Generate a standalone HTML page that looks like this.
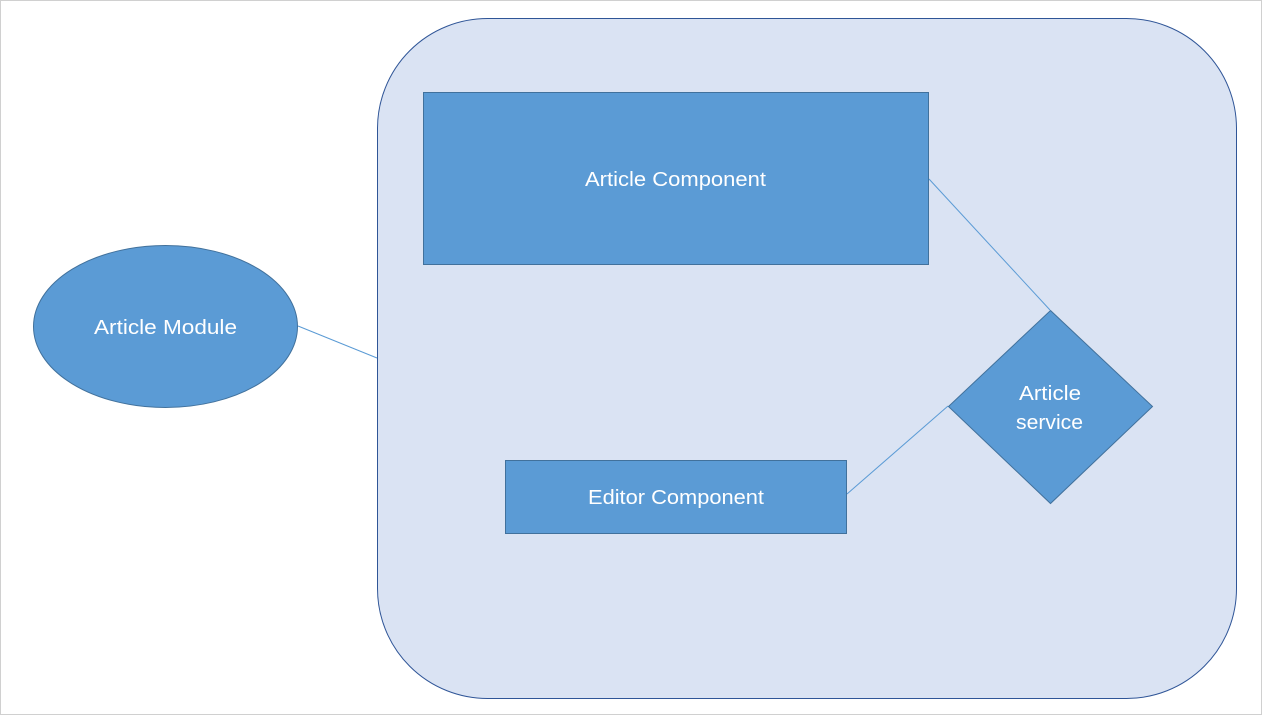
<!DOCTYPE html>
<html><head><style>
html,body{margin:0;padding:0;background:#fff;}
svg{display:block;}
text{font-family:"Liberation Sans",sans-serif;font-size:20px;fill:#fff;}
</style></head><body>
<svg width="1262" height="716" viewBox="0 0 1262 716">
<rect x="0.5" y="0.5" width="1261" height="714" fill="#fff" stroke="#d0d0d0"/>
<rect x="377.5" y="18.5" width="859" height="680" rx="110" ry="110" fill="#dae3f3" stroke="#2f5597" stroke-width="1"/>
<line x1="298" y1="326" x2="377" y2="358" stroke="#5b9bd5" stroke-width="1"/>
<line x1="929" y1="179" x2="1050" y2="310" stroke="#5b9bd5" stroke-width="1"/>
<line x1="847" y1="494" x2="948" y2="406" stroke="#5b9bd5" stroke-width="1"/>
<ellipse cx="165.5" cy="326.5" rx="132" ry="81" fill="#5b9bd5" stroke="#41719c"/>
<rect x="423.5" y="92.5" width="505" height="172" fill="#5b9bd5" stroke="#41719c"/>
<rect x="505.5" y="460.5" width="341" height="73" fill="#5b9bd5" stroke="#41719c"/>
<polygon points="1050.5,310.5 1152.5,406.5 1050.5,503.5 948.5,406.5" fill="#5b9bd5" stroke="#41719c"/>
<text x="94" y="334" textLength="143" lengthAdjust="spacingAndGlyphs">Article Module</text>
<text x="585" y="186" textLength="181" lengthAdjust="spacingAndGlyphs">Article Component</text>
<text x="588" y="504" textLength="176" lengthAdjust="spacingAndGlyphs">Editor Component</text>
<text x="1019" y="400" textLength="62" lengthAdjust="spacingAndGlyphs">Article</text>
<text x="1016" y="429" textLength="67" lengthAdjust="spacingAndGlyphs">service</text>
</svg>
</body></html>
